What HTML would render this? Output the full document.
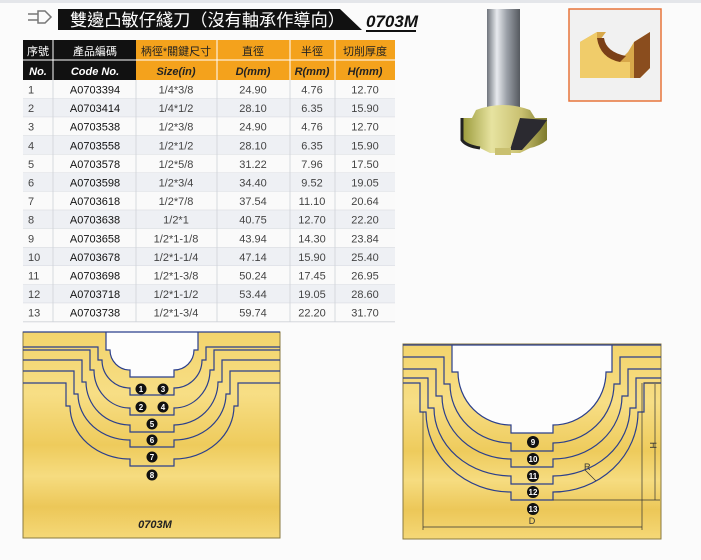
<!DOCTYPE html>
<html><head><meta charset="utf-8"><style>
body{margin:0;background:#fbfbfb;width:701px;height:560px;overflow:hidden;font-family:"Liberation Sans","Noto Sans CJK TC",sans-serif}
svg{position:absolute;left:0;top:0}
</style></head><body>
<svg width="701" height="560" viewBox="0 0 701 560" xmlns="http://www.w3.org/2000/svg" font-family="Liberation Sans, Noto Sans CJK TC, sans-serif">
<defs>
<linearGradient id="wood" x1="0" y1="0" x2="0" y2="1">
<stop offset="0" stop-color="#f3d46c"/><stop offset="0.3" stop-color="#f7de85"/><stop offset="0.55" stop-color="#eecb5c"/><stop offset="0.7" stop-color="#f6dc80"/><stop offset="0.85" stop-color="#ecc758"/><stop offset="1" stop-color="#f5d877"/>
</linearGradient>
<linearGradient id="shank" x1="0" x2="1">
<stop offset="0" stop-color="#6f747c"/><stop offset="0.3" stop-color="#e8eaee"/><stop offset="0.6" stop-color="#9ba0a8"/><stop offset="1" stop-color="#55595f"/>
</linearGradient>
<linearGradient id="head" x1="0" x2="1">
<stop offset="0" stop-color="#9a9a3a"/><stop offset="0.35" stop-color="#e7e3a0"/><stop offset="0.7" stop-color="#c9c070"/><stop offset="1" stop-color="#7d7a2c"/>
</linearGradient>
</defs>
<rect x="0" y="0" width="701" height="3" fill="#e4e6ea"/>
<path d="M58,9 H340 L362,30 H58 Z" fill="#111"/>
<path d="M28,14 H38 M28,20 H38" stroke="#777" stroke-width="1.5"/>
<path d="M38,11 L45,11 L51,17 L45,23 L38,23 Z" fill="none" stroke="#777" stroke-width="1.5"/>
<text x="70" y="26" font-size="17" fill="#fff" textLength="275" lengthAdjust="spacingAndGlyphs">雙邊凸敏仔綫刀（沒有軸承作導向）</text>
<text x="366" y="27" font-size="17" font-weight="bold" font-style="italic" fill="#111">0703M</text>
<rect x="366" y="30" width="50" height="2" fill="#111"/>
<rect x="23" y="40" width="113" height="40" fill="#111"/>
<rect x="136" y="40" width="259" height="40" fill="#f4a21c"/>
<line x1="23" y1="60" x2="395" y2="60" stroke="#fff" stroke-width="1"/>
<g stroke="#fff" stroke-width="1"><line x1="53" y1="40" x2="53" y2="80"/><line x1="217" y1="40" x2="217" y2="80"/><line x1="290" y1="40" x2="290" y2="80"/><line x1="335" y1="40" x2="335" y2="80"/></g>
<g font-size="11" text-anchor="middle" fill="#fff"><text x="38" y="55">序號</text><text x="95" y="55">產品編碼</text></g>
<g font-size="11" text-anchor="middle" fill="#222"><text x="176" y="55">柄徑*關鍵尺寸</text><text x="253" y="55">直徑</text><text x="312" y="55">半徑</text><text x="365" y="55">切削厚度</text></g>
<g font-size="11" font-weight="bold" font-style="italic" text-anchor="middle"><text x="38" y="75" fill="#fff">No.</text><text x="95" y="75" fill="#fff">Code No.</text>
<text x="176" y="75" fill="#222">Size(in)</text><text x="253" y="75" fill="#222">D(mm)</text><text x="312" y="75" fill="#222">R(mm)</text><text x="365" y="75" fill="#222">H(mm)</text></g>
<g id="rows" font-size="11" fill="#333"></g>
<rect x="487" y="9" width="33" height="102" fill="url(#shank)"/>
<path d="M476,110 Q503,100 530,110 L535,118 H547 V140 Q540,146 530,148 L520,153 H490 L480,148 Q466,146 462,140 V118 H472 Z" fill="url(#head)"/>
<path d="M520,118 L510,150 H522 L540,130 L547,120 Z" fill="#2b2a30"/>
<path d="M462,118 V140 Q466,146 480,148" fill="none" stroke="#222" stroke-width="3"/>
<rect x="495" y="148" width="16" height="7" fill="#c9c070"/>
<rect x="569" y="9" width="92" height="92" fill="#f1f1f1" stroke="#e8743a" stroke-width="1.5"/>
<path d="M580,42 L597,32 H606 L600,40 Q603,58 620,60 L628,52 L634,42 L650,32 V68 L640,78 H580 Z" fill="#d8a84a"/>
<path d="M580,42 L597,32 V38 Q600,58 620,62 H630 V78 H580 Z" fill="#f0cc6a"/>
<path d="M634,42 L650,32 V68 L640,78 H634 Z" fill="#8a4d1e"/>
<path d="M597,38 Q600,58 620,62 L626,56 Q606,52 604,38 Z" fill="#7a3f17"/>
<rect x="23" y="332" width="257" height="206" fill="url(#wood)" stroke="#8a7a40" stroke-width="1"/>
<g id="L" fill="none" stroke="#2b3f8c" stroke-width="1.2"></g>
<text x="155" y="528" font-size="11" font-weight="bold" font-style="italic" text-anchor="middle" fill="#222">0703M</text>
<rect x="403" y="344" width="258" height="195" fill="url(#wood)" stroke="#8a7a40" stroke-width="1"/>
<g id="R" fill="none" stroke="#2b3f8c" stroke-width="1.2"></g>
<g stroke="#333" stroke-width="0.7" fill="none">
<line x1="644" y1="383" x2="660" y2="383"/><line x1="655" y1="384" x2="655" y2="500"/><line x1="553" y1="500" x2="660" y2="500"/>
<line x1="423" y1="412" x2="423" y2="530"/><line x1="642" y1="383" x2="642" y2="530"/><line x1="423" y1="527" x2="642" y2="527"/>
<line x1="585" y1="470" x2="596" y2="481"/>
</g>
<text x="532" y="524" font-size="9" text-anchor="middle" fill="#333">D</text>
<text x="650" y="442" font-size="9" fill="#333" transform="rotate(90 650 442)">H</text>
<text x="584" y="470" font-size="9" fill="#333">R</text>
<g id="C" font-size="8" font-weight="bold" fill="#fff" text-anchor="middle">
<circle cx="141" cy="389" r="5.5" fill="#111"/><text x="141" y="392">1</text>
<circle cx="163" cy="389" r="5.5" fill="#111"/><text x="163" y="392">3</text>
<circle cx="141" cy="407" r="5.5" fill="#111"/><text x="141" y="410">2</text>
<circle cx="163" cy="407" r="5.5" fill="#111"/><text x="163" y="410">4</text>
<circle cx="152" cy="424" r="5.5" fill="#111"/><text x="152" y="427">5</text>
<circle cx="152" cy="440" r="5.5" fill="#111"/><text x="152" y="443">6</text>
<circle cx="152" cy="457" r="5.5" fill="#111"/><text x="152" y="460">7</text>
<circle cx="152" cy="475" r="5.5" fill="#111"/><text x="152" y="478">8</text>
<circle cx="533" cy="442" r="6" fill="#111"/><text x="533" y="445">9</text>
<circle cx="533" cy="459" r="6" fill="#111"/><text x="533" y="462">10</text>
<circle cx="533" cy="476" r="6" fill="#111"/><text x="533" y="479">11</text>
<circle cx="533" cy="492" r="6" fill="#111"/><text x="533" y="495">12</text>
<circle cx="533" cy="509" r="6" fill="#111"/><text x="533" y="512">13</text>
</g>
</svg>
<script>
var NS="http://www.w3.org/2000/svg";
var data=[["1","A0703394","1/4*3/8","24.90","4.76","12.70"],["2","A0703414","1/4*1/2","28.10","6.35","15.90"],["3","A0703538","1/2*3/8","24.90","4.76","12.70"],["4","A0703558","1/2*1/2","28.10","6.35","15.90"],["5","A0703578","1/2*5/8","31.22","7.96","17.50"],["6","A0703598","1/2*3/4","34.40","9.52","19.05"],["7","A0703618","1/2*7/8","37.54","11.10","20.64"],["8","A0703638","1/2*1","40.75","12.70","22.20"],["9","A0703658","1/2*1-1/8","43.94","14.30","23.84"],["10","A0703678","1/2*1-1/4","47.14","15.90","25.40"],["11","A0703698","1/2*1-3/8","50.24","17.45","26.95"],["12","A0703718","1/2*1-1/2","53.44","19.05","28.60"],["13","A0703738","1/2*1-3/4","59.74","22.20","31.70"]];
var g=document.getElementById("rows");var xs=[28,95,176,253,312,365],an=["start","middle","middle","middle","middle","middle"];
function el(t,a,p){var e=document.createElementNS(NS,t);for(var k in a)e.setAttribute(k,a[k]);p.appendChild(e);return e;}
data.forEach(function(r,i){var y=80+i*18.6;
el("rect",{x:23,y:y,width:372,height:18.6,fill:i%2?"#eef0f4":"#fafafa"},g);
el("line",{x1:23,y1:y+18.6,x2:395,y2:y+18.6,stroke:"#cfd2d8","stroke-width":0.8},g);
r.forEach(function(v,j){var t=el("text",{x:xs[j],y:y+13.5,"text-anchor":an[j],fill:j==1?"#111":"#444"},g);t.textContent=v;});});
[53,136,217,290,335].forEach(function(x){el("line",{x1:x,y1:80,x2:x,y2:322,stroke:"#cfd2d8","stroke-width":0.8},g);});
function prof(c,yt,a,ys,b,yb,f,n,xl,xr){
var y1=yb-n,rx=b-f,ry=y1-ys;
return "M"+xl+","+yt+"H"+(c-a)+"V"+ys+"H"+(c-b)+"A"+rx+","+ry+" 0 0 0 "+(c-f)+","+y1+"V"+yb+"H"+(c+f)+"V"+y1+"A"+rx+","+ry+" 0 0 0 "+(c+b)+","+ys+"H"+(c+a)+"V"+yt+"H"+xr;}
var L=document.getElementById("L");
el("path",{d:prof(152,332,46,350,42,377,22,7,23,280)+"Z",fill:"#fdfdfd",stroke:"#2b3f8c"},L);
[[347,54,360,50,395],[350,62,370,58,415],[360,70,382,66,432],[371,78,394,74,447],[383,86,406,82,466]].forEach(function(p){el("path",{d:prof(152,p[0],p[1],p[2],p[3],p[4],22,7,23,280)},L);});
var R=document.getElementById("R");
el("path",{d:prof(532,345,80,372,74,433,21,8,403,661)+"Z",fill:"#fdfdfd",stroke:"#2b3f8c"},R);
[[357,88,384,82,451],[369,96,396,90,467],[378,104,408,98,484],[383,112,412,106,500]].forEach(function(p){el("path",{d:prof(532,p[0],p[1],p[2],p[3],p[4],21,8,403,661)},R);});
</script>
</body></html>
